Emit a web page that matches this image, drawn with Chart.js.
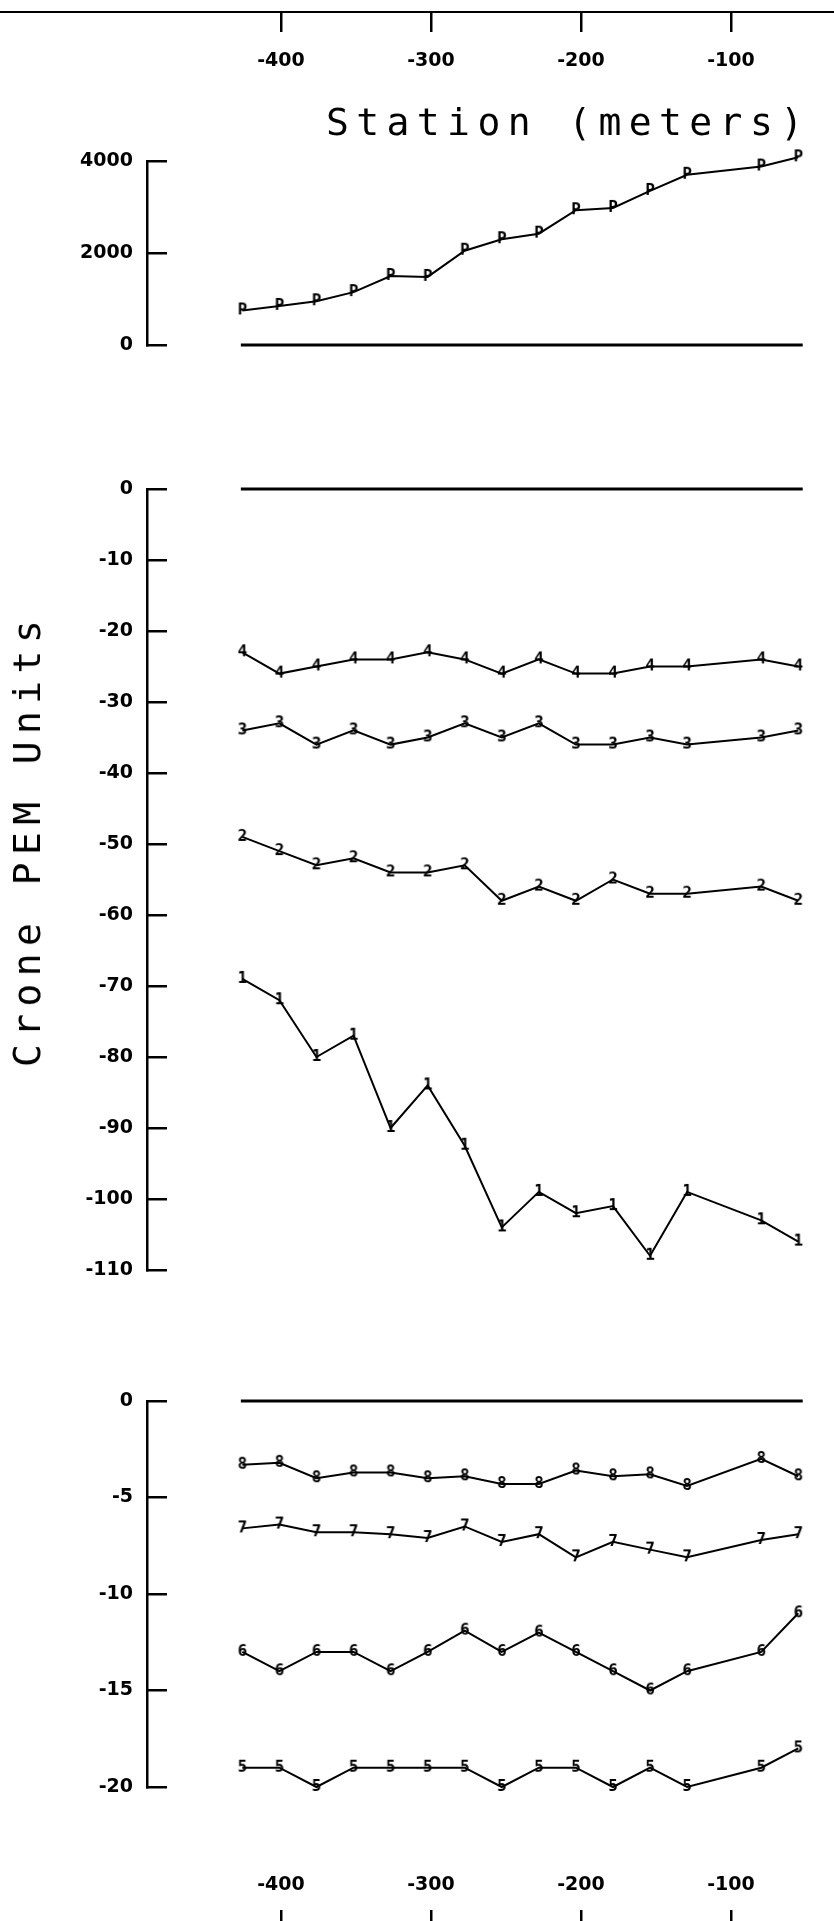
<!DOCTYPE html>
<html>
<head>
<meta charset="utf-8">
<title>Crone PEM profile</title>
<script src="https://cdn.jsdelivr.net/npm/chart.js@4.4.1/dist/chart.umd.min.js"></script>
<style>
  html, body { margin: 0; padding: 0; background: #fff; }
  #page { position: relative; width: 834px; height: 1921px; overflow: hidden; }
  #page canvas { position: absolute; left: 0; top: 0; }
  .frame { position: absolute; left: 0; top: 11px; width: 834px; height: 2px; background: #000; }
  .big { position: absolute; font-family: "DejaVu Sans Mono", monospace; font-size: 38px;
         letter-spacing: 7.4px; color: #000; white-space: nowrap; line-height: 1; }
  #xTitle { left: 326px; top: 103px; }
  #yTitle { left: 27px; top: 840px; transform: translate(-50%, -50%) rotate(-90deg); }
</style>
</head>
<body>
<div id="page">
  <div class="frame"></div>
  <canvas id="axisTop" width="834" height="1921"></canvas>
  <canvas id="panelP" width="834" height="1921"></canvas>
  <canvas id="panelMid" width="834" height="1921"></canvas>
  <canvas id="panelLow" width="834" height="1921"></canvas>
  <canvas id="axisBottom" width="834" height="1921"></canvas>
  <div class="big" id="xTitle">Station (meters)</div>
  <div class="big" id="yTitle">Crone PEM Units</div>
</div>
<script>
// stations along the line (m)
const stations = [-425, -400, -375, -350, -325, -300, -275, -250, -225, -200, -175, -150, -125, -75, -50];
const stationTicks = [-400, -300, -200, -100];
const zeroLineX = [-426, -47];

// primary pulse
const primary = [750, 850, 950, 1150, 1500, 1480, 2050, 2300, 2420, 2930, 2980, 3350, 3700, 3880, 4080];

// channels 1-4 (middle panel)
const ch1 = [-69, -72, -80, -77, -90, -84, -92.5, -104, -99, -102, -101, -108, -99, -103, -106];
const ch2 = [-49, -51, -53, -52, -54, -54, -53, -58, -56, -58, -55, -57, -57, -56, -58];
const ch3 = [-34, -33, -36, -34, -36, -35, -33, -35, -33, -36, -36, -35, -36, -35, -34];
const ch4 = [-23, -26, -25, -24, -24, -23, -24, -26, -24, -26, -26, -25, -25, -24, -25];

// channels 5-8 (bottom panel)
const ch5 = [-19, -19, -20, -19, -19, -19, -19, -20, -19, -19, -20, -19, -20, -19, -18];
const ch6 = [-13, -14, -13, -13, -14, -13, -11.9, -13, -12, -13, -14, -15, -14, -13, -11];
const ch7 = [-6.6, -6.4, -6.8, -6.8, -6.9, -7.1, -6.5, -7.3, -6.9, -8.1, -7.3, -7.7, -8.1, -7.2, -6.9];
const ch8 = [-3.3, -3.2, -4.0, -3.7, -3.7, -4.0, -3.9, -4.3, -4.3, -3.6, -3.9, -3.8, -4.4, -3.0, -3.9];

const topTicks = [0, 2000, 4000];
const midTicks = [0, -10, -20, -30, -40, -50, -60, -70, -80, -90, -100, -110];
const lowTicks = [0, -5, -10, -15, -20];

const X_MIN = -489.3, X_MAX = -31.3;
const AXIS_LEFT = 147;
const tickFont = { family: '"DejaVu Sans", sans-serif', weight: 'bold', size: 19 };

// station glyph used as the point marker ("P", "1".."8")
function glyph(ch) {
  const c = document.createElement('canvas');
  c.width = 16; c.height = 18;
  const g = c.getContext('2d');
  g.font = 'bold 16px "DejaVu Sans Mono", monospace';
  g.textAlign = 'center';
  g.textBaseline = 'middle';
  g.fillStyle = '#000';
  g.fillText(ch, 8, 9);
  return c;
}

function series(values, ch) {
  return {
    data: values.map((v, i) => ({ x: stations[i], y: v })),
    borderColor: '#000', borderWidth: 2,
    pointStyle: glyph(ch), pointRadius: 6,
    clip: false, tension: 0
  };
}

function zeroLine() {
  return {
    data: zeroLineX.map(x => ({ x: x, y: 0 })),
    borderColor: '#000', borderWidth: 3, pointRadius: 0, clip: false
  };
}

const base = {
  responsive: false, animation: false, devicePixelRatio: 1,
  plugins: { legend: { display: false }, tooltip: { enabled: false } }
};

function makePanel(id, datasets, yTicks, padTop, padBottom) {
  new Chart(document.getElementById(id), {
    type: 'line',
    data: { datasets },
    options: Object.assign({}, base, {
      layout: { padding: { top: padTop, bottom: padBottom, left: 0, right: 0 } },
      scales: {
        x: { type: 'linear', min: X_MIN, max: X_MAX, display: false },
        y: {
          type: 'linear',
          min: Math.min(...yTicks), max: Math.max(...yTicks),
          afterFit: s => { s.width = AXIS_LEFT; },
          afterBuildTicks: s => { s.ticks = yTicks.map(v => ({ value: v })); },
          border: { display: true, color: '#000', width: 2.5 },
          grid: { drawOnChartArea: false, drawTicks: true, tickLength: -20, color: '#000', lineWidth: 2.5 },
          ticks: { color: '#000', padding: 34, font: tickFont, callback: v => String(v) }
        }
      }
    })
  });
}

function makeStrip(id, position, padding, axisH, labelPad) {
  new Chart(document.getElementById(id), {
    type: 'line',
    data: { datasets: [] },
    options: Object.assign({}, base, {
      layout: { padding },
      scales: {
        x: {
          type: 'linear', position, min: X_MIN, max: X_MAX,
          afterFit: s => { s.height = axisH; },
          afterBuildTicks: s => { s.ticks = stationTicks.map(v => ({ value: v })); },
          border: { display: false },
          grid: { drawOnChartArea: true, drawTicks: false, color: '#000', lineWidth: 2.5 },
          ticks: { color: '#000', padding: labelPad, font: tickFont, maxRotation: 0, autoSkip: false, callback: v => String(v) }
        },
        y: { display: false, min: 0, max: 1 }
      }
    })
  });
}

makeStrip('axisTop', 'bottom', { top: 12, bottom: 1829, left: AXIS_LEFT, right: 0 }, 60, 18);
makePanel('panelP', [zeroLine(), series(primary, 'P')], topTicks, 161, 1921 - 345);
makePanel('panelMid', [zeroLine(), series(ch1, '1'), series(ch2, '2'), series(ch3, '3'), series(ch4, '4')], midTicks, 489, 1921 - 1270);
makePanel('panelLow', [zeroLine(), series(ch5, '5'), series(ch6, '6'), series(ch7, '7'), series(ch8, '8')], lowTicks, 1401, 1921 - 1787);
makeStrip('axisBottom', 'top', { top: 1840, bottom: 0, left: AXIS_LEFT, right: 0 }, 70, 14);
</script>
</body>
</html>
